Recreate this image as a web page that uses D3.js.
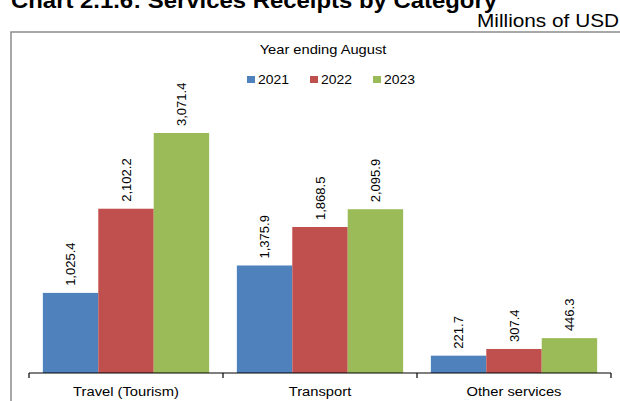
<!DOCTYPE html>
<html>
<head>
<meta charset="utf-8">
<script src="https://cdn.jsdelivr.net/npm/d3@7"></script>
<style>
  html, body { margin: 0; padding: 0; background: #fff; }
  svg { display: block; font-family: Arial, "Liberation Sans", sans-serif; }
</style>
</head>
<body>
<svg id="chart" width="620" height="401"></svg>
<script>
// Services receipts by category, year ending August (millions of USD)
const categories = ["Travel (Tourism)", "Transport", "Other services"];
const years = ["2021", "2022", "2023"];
const values2021 = [1025.4, 1375.9, 221.7];
const values2022 = [2102.2, 1868.5, 307.4];
const values2023 = [3071.4, 2095.9, 446.3];
const seriesColors = ["#4F81BD", "#C0504D", "#9BBB59"];

const series = [values2021, values2022, values2023];

const svg = d3.select("#chart");

// widen horizontal text slightly (wide Arial-like rendering)
function stretch(sel, k) {
  sel.each(function() {
    const len = this.getComputedTextLength();
    d3.select(this)
      .attr("textLength", len * k)
      .attr("lengthAdjust", "spacingAndGlyphs");
  });
}

// title (top part runs off the page)
svg.append("text")
  .attr("x", 11).attr("y", 7.5)
  .attr("font-size", 22).attr("font-weight", "bold")
  .attr("fill", "#000")
  .attr("textLength", 486)
  .attr("lengthAdjust", "spacingAndGlyphs")
  .text("Chart 2.1.6: Services Receipts by Category");

svg.append("text")
  .attr("x", 619).attr("y", 27.3)
  .attr("text-anchor", "end")
  .attr("font-size", 17.5)
  .attr("fill", "#000")
  .attr("textLength", 142)
  .attr("lengthAdjust", "spacingAndGlyphs")
  .text("Millions of USD");

// chart frame
svg.append("rect")
  .attr("x", 11).attr("y", 32)
  .attr("width", 640).attr("height", 400)
  .attr("fill", "none")
  .attr("stroke", "#8c8c8c")
  .attr("stroke-width", 1.5);

const plot = { left: 29, right: 611, bottom: 373 };

const x0 = d3.scaleBand()
  .domain(categories)
  .range([plot.left, plot.right])
  .paddingInner(0)
  .paddingOuter(0);

const x1 = d3.scaleBand()
  .domain(years)
  .range([0, x0.bandwidth()])
  .paddingInner(0)
  .paddingOuter(0.25);

const y = d3.scaleLinear()
  .domain([0, 3500])
  .range([plot.bottom, 99.5]);

// bars and value labels
const groups = svg.append("g").selectAll("g")
  .data(categories)
  .join("g")
  .attr("transform", d => `translate(${x0(d)},0)`);

groups.each(function(cat, ci) {
  const g = d3.select(this);
  years.forEach((yr, si) => {
    const v = series[si][ci];
    g.append("rect")
      .attr("x", x1(yr))
      .attr("y", y(v))
      .attr("width", x1.bandwidth())
      .attr("height", y(0) - y(v))
      .attr("fill", seriesColors[si]);
    const cx = x1(yr) + x1.bandwidth() / 2;
    g.append("text")
      .attr("transform", `translate(${cx + 4.5},${y(v) - 7}) rotate(-90)`)
      .attr("font-size", 13)
      .attr("fill", "#000")
      .text(d3.format(",.1f")(v));
  });
});

// category axis
const axis = d3.axisBottom(x0).tickSize(0).tickPadding(0);
const axisG = svg.append("g")
  .attr("transform", `translate(0,${plot.bottom})`)
  .call(axis);
axisG.select(".domain").remove();
axisG.selectAll("text")
  .attr("font-size", 12.5)
  .attr("font-family", "Arial, 'Liberation Sans', sans-serif")
  .attr("fill", "#000")
  .attr("dy", null)
  .attr("y", 23)
  .call(stretch, 1.178);

svg.append("line")
  .attr("x1", plot.left).attr("x2", plot.right)
  .attr("y1", plot.bottom).attr("y2", plot.bottom)
  .attr("stroke", "#000").attr("stroke-width", 1.2);

// group separators
const bounds = categories.map(c => x0(c)).concat([plot.right]);
svg.append("g").selectAll("line")
  .data(bounds)
  .join("line")
  .attr("x1", d => d).attr("x2", d => d)
  .attr("y1", plot.bottom).attr("y2", plot.bottom + 5)
  .attr("stroke", "#000").attr("stroke-width", 1.2);

// legend
svg.append("text")
  .attr("x", 323).attr("y", 54.3)
  .attr("text-anchor", "middle")
  .attr("font-size", 13)
  .attr("fill", "#000")
  .attr("textLength", 126.7)
  .attr("lengthAdjust", "spacingAndGlyphs")
  .text("Year ending August");

const legendX = [247, 310, 373];
const legend = svg.append("g").selectAll("g")
  .data(years)
  .join("g")
  .attr("transform", (d, i) => `translate(${legendX[i]},0)`);
legend.append("rect")
  .attr("x", 0).attr("y", 76)
  .attr("width", 8).attr("height", 7)
  .attr("fill", (d, i) => seriesColors[i]);
legend.append("text")
  .attr("x", 11).attr("y", 83.7)
  .attr("font-size", 13)
  .attr("fill", "#000")
  .attr("textLength", 31)
  .attr("lengthAdjust", "spacingAndGlyphs")
  .text(d => d);
</script>
</body>
</html>
